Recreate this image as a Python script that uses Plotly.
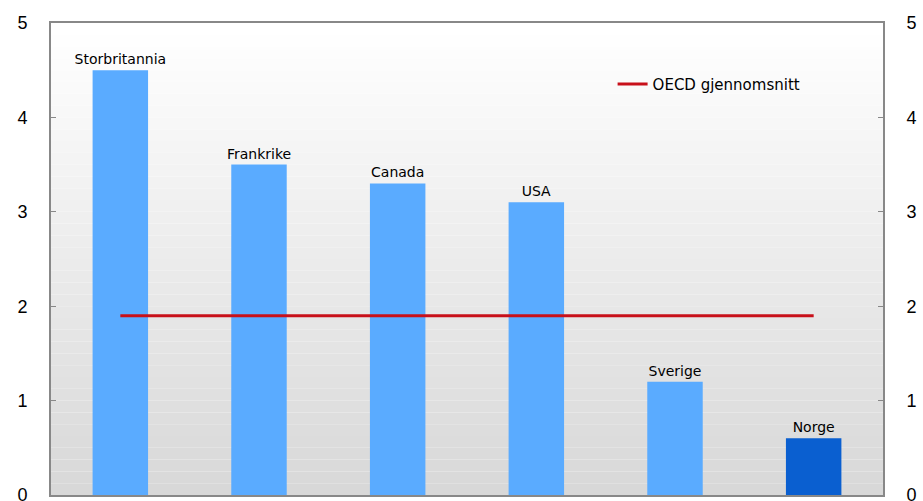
import plotly.graph_objects as go

countries = ["Storbritannia", "Frankrike", "Canada", "USA", "Sverige", "Norge"]
values = [4.5, 3.5, 3.3, 3.1, 1.2, 0.6]
oecd_avg = [1.9, 1.9, 1.9, 1.9, 1.9, 1.9]
bar_colors = ["#5aabff", "#5aabff", "#5aabff", "#5aabff", "#5aabff", "#0a5fd0"]
y_ticks = [0, 1, 2, 3, 4, 5]

fig = go.Figure()

# vertical gradient background for plot area
n = 40
for i in range(n):
    t = i / (n - 1)
    g = int(round(255 - (255 - 216) * (1 - t)))
    fig.add_shape(type="rect", xref="paper", yref="paper",
                  x0=0, x1=1, y0=i / n, y1=(i + 1) / n,
                  fillcolor=f"rgb({g},{g},{g})", line=dict(width=0), layer="below")

fig.add_trace(go.Bar(
    x=countries, y=values, marker=dict(color=bar_colors, line=dict(width=0)),
    width=0.4, text=countries, textposition="outside", constraintext="none",
    textfont=dict(family="DejaVu Sans", size=14, color="black"),
    cliponaxis=False, showlegend=False, hoverinfo="skip"))

fig.add_trace(go.Scatter(
    x=countries, y=oecd_avg, mode="lines", name="OECD gjennomsnitt",
    line=dict(color="#c8101a", width=3)))

fig.add_trace(go.Scatter(x=countries, y=values, yaxis="y2", mode="markers",
                         marker=dict(opacity=0), showlegend=False, hoverinfo="skip"))

axis_common = dict(range=[0, 5], tickvals=y_ticks, ticks="inside", ticklen=5,
                   tickcolor="#888888", showgrid=False, zeroline=False,
                   showline=True, linecolor="#888888", linewidth=2,
                   tickfont=dict(family="Liberation Sans", size=18, color="black"),
                   ticklabelstandoff=18, ticklabeloverflow="allow", automargin=False)

fig.update_layout(
    width=923, height=501,
    margin=dict(l=51, r=40, t=23, b=6),
    paper_bgcolor="white", plot_bgcolor="rgba(0,0,0,0)",
    xaxis=dict(showticklabels=False, showline=True, linecolor="#888888", linewidth=2,
               mirror=True, ticks="", showgrid=False, range=[-0.5, 5.5],
               automargin=False),
    yaxis=dict(**axis_common),
    yaxis2=dict(**axis_common, overlaying="y", side="right"),
    legend=dict(x=0.675, y=0.87, xanchor="left", yanchor="middle",
                bgcolor="rgba(0,0,0,0)", itemwidth=30,
                font=dict(family="DejaVu Sans", size=15, color="black")),
    font=dict(family="Liberation Sans"),
)

fig.write_html("out.html", config={"displayModeBar": False},
               post_script="document.body.style.margin='0';")
